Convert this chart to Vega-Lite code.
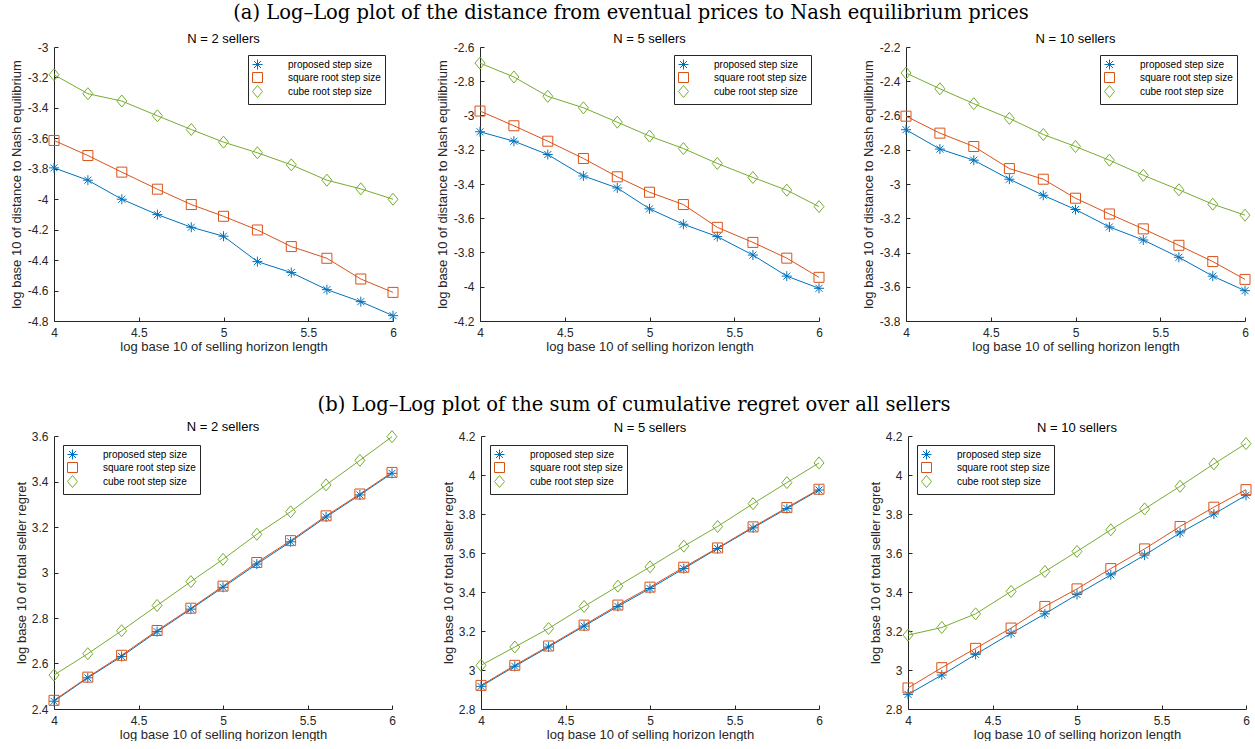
{
"$schema": "https://vega.github.io/schema/vega-lite/v6.json",
"background": "white",
"padding": {"left": 9, "top": 2, "right": 0, "bottom": 0},
"datasets": {"d": [
{"p":1,"s":"proposed step size","x":4,"y":-3.794},{"p":1,"s":"proposed step size","x":4.2,"y":-3.875},{"p":1,"s":"proposed step size","x":4.4,"y":-4.0},{"p":1,"s":"proposed step size","x":4.61,"y":-4.101},{"p":1,"s":"proposed step size","x":4.81,"y":-4.184},{"p":1,"s":"proposed step size","x":5,"y":-4.243},{"p":1,"s":"proposed step size","x":5.2,"y":-4.41},{"p":1,"s":"proposed step size","x":5.4,"y":-4.482},{"p":1,"s":"proposed step size","x":5.61,"y":-4.594},{"p":1,"s":"proposed step size","x":5.81,"y":-4.673},{"p":1,"s":"proposed step size","x":6,"y":-4.765},
{"p":1,"s":"square root step size","x":4,"y":-3.614},{"p":1,"s":"square root step size","x":4.2,"y":-3.713},{"p":1,"s":"square root step size","x":4.4,"y":-3.822},{"p":1,"s":"square root step size","x":4.61,"y":-3.934},{"p":1,"s":"square root step size","x":4.81,"y":-4.035},{"p":1,"s":"square root step size","x":5,"y":-4.112},{"p":1,"s":"square root step size","x":5.2,"y":-4.202},{"p":1,"s":"square root step size","x":5.4,"y":-4.311},{"p":1,"s":"square root step size","x":5.61,"y":-4.388},{"p":1,"s":"square root step size","x":5.81,"y":-4.524},{"p":1,"s":"square root step size","x":6,"y":-4.612},
{"p":1,"s":"cube root step size","x":4,"y":-3.182},{"p":1,"s":"cube root step size","x":4.2,"y":-3.307},{"p":1,"s":"cube root step size","x":4.4,"y":-3.355},{"p":1,"s":"cube root step size","x":4.61,"y":-3.452},{"p":1,"s":"cube root step size","x":4.81,"y":-3.542},{"p":1,"s":"cube root step size","x":5,"y":-3.625},{"p":1,"s":"cube root step size","x":5.2,"y":-3.695},{"p":1,"s":"cube root step size","x":5.4,"y":-3.774},{"p":1,"s":"cube root step size","x":5.61,"y":-3.875},{"p":1,"s":"cube root step size","x":5.81,"y":-3.932},{"p":1,"s":"cube root step size","x":6,"y":-4.0},
{"p":2,"s":"proposed step size","x":4,"y":-3.095},{"p":2,"s":"proposed step size","x":4.2,"y":-3.15},{"p":2,"s":"proposed step size","x":4.4,"y":-3.228},{"p":2,"s":"proposed step size","x":4.61,"y":-3.353},{"p":2,"s":"proposed step size","x":4.81,"y":-3.423},{"p":2,"s":"proposed step size","x":5,"y":-3.545},{"p":2,"s":"proposed step size","x":5.2,"y":-3.635},{"p":2,"s":"proposed step size","x":5.4,"y":-3.707},{"p":2,"s":"proposed step size","x":5.61,"y":-3.815},{"p":2,"s":"proposed step size","x":5.81,"y":-3.938},{"p":2,"s":"proposed step size","x":6,"y":-4.009},
{"p":2,"s":"square root step size","x":4,"y":-2.974},{"p":2,"s":"square root step size","x":4.2,"y":-3.06},{"p":2,"s":"square root step size","x":4.4,"y":-3.15},{"p":2,"s":"square root step size","x":4.61,"y":-3.251},{"p":2,"s":"square root step size","x":4.81,"y":-3.358},{"p":2,"s":"square root step size","x":5,"y":-3.448},{"p":2,"s":"square root step size","x":5.2,"y":-3.52},{"p":2,"s":"square root step size","x":5.4,"y":-3.653},{"p":2,"s":"square root step size","x":5.61,"y":-3.741},{"p":2,"s":"square root step size","x":5.81,"y":-3.833},{"p":2,"s":"square root step size","x":6,"y":-3.945},
{"p":2,"s":"cube root step size","x":4,"y":-2.694},{"p":2,"s":"cube root step size","x":4.2,"y":-2.775},{"p":2,"s":"cube root step size","x":4.4,"y":-2.888},{"p":2,"s":"cube root step size","x":4.61,"y":-2.955},{"p":2,"s":"cube root step size","x":4.81,"y":-3.039},{"p":2,"s":"cube root step size","x":5,"y":-3.12},{"p":2,"s":"cube root step size","x":5.2,"y":-3.193},{"p":2,"s":"cube root step size","x":5.4,"y":-3.28},{"p":2,"s":"cube root step size","x":5.61,"y":-3.362},{"p":2,"s":"cube root step size","x":5.81,"y":-3.436},{"p":2,"s":"cube root step size","x":6,"y":-3.532},
{"p":3,"s":"proposed step size","x":4,"y":-2.683},{"p":3,"s":"proposed step size","x":4.2,"y":-2.796},{"p":3,"s":"proposed step size","x":4.4,"y":-2.861},{"p":3,"s":"proposed step size","x":4.61,"y":-2.972},{"p":3,"s":"proposed step size","x":4.81,"y":-3.066},{"p":3,"s":"proposed step size","x":5,"y":-3.149},{"p":3,"s":"proposed step size","x":5.2,"y":-3.251},{"p":3,"s":"proposed step size","x":5.4,"y":-3.327},{"p":3,"s":"proposed step size","x":5.61,"y":-3.428},{"p":3,"s":"proposed step size","x":5.81,"y":-3.538},{"p":3,"s":"proposed step size","x":6,"y":-3.623},
{"p":3,"s":"square root step size","x":4,"y":-2.604},{"p":3,"s":"square root step size","x":4.2,"y":-2.703},{"p":3,"s":"square root step size","x":4.4,"y":-2.781},{"p":3,"s":"square root step size","x":4.61,"y":-2.91},{"p":3,"s":"square root step size","x":4.81,"y":-2.972},{"p":3,"s":"square root step size","x":5,"y":-3.083},{"p":3,"s":"square root step size","x":5.2,"y":-3.175},{"p":3,"s":"square root step size","x":5.4,"y":-3.262},{"p":3,"s":"square root step size","x":5.61,"y":-3.358},{"p":3,"s":"square root step size","x":5.81,"y":-3.453},{"p":3,"s":"square root step size","x":6,"y":-3.557},
{"p":3,"s":"cube root step size","x":4,"y":-2.352},{"p":3,"s":"cube root step size","x":4.2,"y":-2.444},{"p":3,"s":"cube root step size","x":4.4,"y":-2.531},{"p":3,"s":"cube root step size","x":4.61,"y":-2.617},{"p":3,"s":"cube root step size","x":4.81,"y":-2.711},{"p":3,"s":"cube root step size","x":5,"y":-2.781},{"p":3,"s":"cube root step size","x":5.2,"y":-2.861},{"p":3,"s":"cube root step size","x":5.4,"y":-2.949},{"p":3,"s":"cube root step size","x":5.61,"y":-3.034},{"p":3,"s":"cube root step size","x":5.81,"y":-3.118},{"p":3,"s":"cube root step size","x":6,"y":-3.182},
{"p":4,"s":"proposed step size","x":4,"y":2.434},{"p":4,"s":"proposed step size","x":4.2,"y":2.537},{"p":4,"s":"proposed step size","x":4.4,"y":2.631},{"p":4,"s":"proposed step size","x":4.61,"y":2.74},{"p":4,"s":"proposed step size","x":4.81,"y":2.839},{"p":4,"s":"proposed step size","x":5,"y":2.935},{"p":4,"s":"proposed step size","x":5.2,"y":3.037},{"p":4,"s":"proposed step size","x":5.4,"y":3.135},{"p":4,"s":"proposed step size","x":5.61,"y":3.244},{"p":4,"s":"proposed step size","x":5.81,"y":3.341},{"p":4,"s":"proposed step size","x":6,"y":3.436},
{"p":4,"s":"square root step size","x":4,"y":2.438},{"p":4,"s":"square root step size","x":4.2,"y":2.54},{"p":4,"s":"square root step size","x":4.4,"y":2.636},{"p":4,"s":"square root step size","x":4.61,"y":2.745},{"p":4,"s":"square root step size","x":4.81,"y":2.843},{"p":4,"s":"square root step size","x":5,"y":2.94},{"p":4,"s":"square root step size","x":5.2,"y":3.044},{"p":4,"s":"square root step size","x":5.4,"y":3.14},{"p":4,"s":"square root step size","x":5.61,"y":3.249},{"p":4,"s":"square root step size","x":5.81,"y":3.345},{"p":4,"s":"square root step size","x":6,"y":3.44},
{"p":4,"s":"cube root step size","x":4,"y":2.549},{"p":4,"s":"cube root step size","x":4.2,"y":2.643},{"p":4,"s":"cube root step size","x":4.4,"y":2.744},{"p":4,"s":"cube root step size","x":4.61,"y":2.855},{"p":4,"s":"cube root step size","x":4.81,"y":2.96},{"p":4,"s":"cube root step size","x":5,"y":3.058},{"p":4,"s":"cube root step size","x":5.2,"y":3.168},{"p":4,"s":"cube root step size","x":5.4,"y":3.267},{"p":4,"s":"cube root step size","x":5.61,"y":3.385},{"p":4,"s":"cube root step size","x":5.81,"y":3.493},{"p":4,"s":"cube root step size","x":6,"y":3.597},
{"p":5,"s":"proposed step size","x":4,"y":2.916},{"p":5,"s":"proposed step size","x":4.2,"y":3.019},{"p":5,"s":"proposed step size","x":4.4,"y":3.118},{"p":5,"s":"proposed step size","x":4.61,"y":3.225},{"p":5,"s":"proposed step size","x":4.81,"y":3.326},{"p":5,"s":"proposed step size","x":5,"y":3.418},{"p":5,"s":"proposed step size","x":5.2,"y":3.52},{"p":5,"s":"proposed step size","x":5.4,"y":3.623},{"p":5,"s":"proposed step size","x":5.61,"y":3.729},{"p":5,"s":"proposed step size","x":5.81,"y":3.828},{"p":5,"s":"proposed step size","x":6,"y":3.923},
{"p":5,"s":"square root step size","x":4,"y":2.921},{"p":5,"s":"square root step size","x":4.2,"y":3.024},{"p":5,"s":"square root step size","x":4.4,"y":3.123},{"p":5,"s":"square root step size","x":4.61,"y":3.23},{"p":5,"s":"square root step size","x":4.81,"y":3.333},{"p":5,"s":"square root step size","x":5,"y":3.425},{"p":5,"s":"square root step size","x":5.2,"y":3.527},{"p":5,"s":"square root step size","x":5.4,"y":3.626},{"p":5,"s":"square root step size","x":5.61,"y":3.734},{"p":5,"s":"square root step size","x":5.81,"y":3.833},{"p":5,"s":"square root step size","x":6,"y":3.927},
{"p":5,"s":"cube root step size","x":4,"y":3.024},{"p":5,"s":"cube root step size","x":4.2,"y":3.118},{"p":5,"s":"cube root step size","x":4.4,"y":3.213},{"p":5,"s":"cube root step size","x":4.61,"y":3.326},{"p":5,"s":"cube root step size","x":4.81,"y":3.43},{"p":5,"s":"cube root step size","x":5,"y":3.529},{"p":5,"s":"cube root step size","x":5.2,"y":3.635},{"p":5,"s":"cube root step size","x":5.4,"y":3.736},{"p":5,"s":"cube root step size","x":5.61,"y":3.853},{"p":5,"s":"cube root step size","x":5.81,"y":3.961},{"p":5,"s":"cube root step size","x":6,"y":4.062},
{"p":6,"s":"proposed step size","x":4,"y":2.875},{"p":6,"s":"proposed step size","x":4.2,"y":2.974},{"p":6,"s":"proposed step size","x":4.4,"y":3.08},{"p":6,"s":"proposed step size","x":4.61,"y":3.188},{"p":6,"s":"proposed step size","x":4.81,"y":3.288},{"p":6,"s":"proposed step size","x":5,"y":3.387},{"p":6,"s":"proposed step size","x":5.2,"y":3.488},{"p":6,"s":"proposed step size","x":5.4,"y":3.589},{"p":6,"s":"proposed step size","x":5.61,"y":3.703},{"p":6,"s":"proposed step size","x":5.81,"y":3.8},{"p":6,"s":"proposed step size","x":6,"y":3.896},
{"p":6,"s":"square root step size","x":4,"y":2.908},{"p":6,"s":"square root step size","x":4.2,"y":3.012},{"p":6,"s":"square root step size","x":4.4,"y":3.111},{"p":6,"s":"square root step size","x":4.61,"y":3.215},{"p":6,"s":"square root step size","x":4.81,"y":3.326},{"p":6,"s":"square root step size","x":5,"y":3.416},{"p":6,"s":"square root step size","x":5.2,"y":3.52},{"p":6,"s":"square root step size","x":5.4,"y":3.621},{"p":6,"s":"square root step size","x":5.61,"y":3.736},{"p":6,"s":"square root step size","x":5.81,"y":3.835},{"p":6,"s":"square root step size","x":6,"y":3.925},
{"p":6,"s":"cube root step size","x":4,"y":3.179},{"p":6,"s":"cube root step size","x":4.2,"y":3.218},{"p":6,"s":"cube root step size","x":4.4,"y":3.288},{"p":6,"s":"cube root step size","x":4.61,"y":3.403},{"p":6,"s":"cube root step size","x":4.81,"y":3.505},{"p":6,"s":"cube root step size","x":5,"y":3.608},{"p":6,"s":"cube root step size","x":5.2,"y":3.719},{"p":6,"s":"cube root step size","x":5.4,"y":3.826},{"p":6,"s":"cube root step size","x":5.61,"y":3.942},{"p":6,"s":"cube root step size","x":5.81,"y":4.057},{"p":6,"s":"cube root step size","x":6,"y":4.161}
]},
"config": {
  "view": {"stroke": null},
  "font": "Liberation Sans",
  "title": {"font": "Liberation Sans", "fontSize": 13, "fontWeight": "normal", "color": "#000000", "offset": -5},
  "axis": {"grid": false, "domainColor": "#262626", "tickColor": "#262626", "labelColor": "#262626", "titleColor": "#262626", "labelFont": "Liberation Sans", "titleFont": "Liberation Sans", "labelFontSize": 12, "titleFontSize": 13, "titleFontWeight": "normal", "tickSize": -4, "labelPadding": 10, "domainWidth": 1, "tickWidth": 1, "labelFlush": false, "labelOverlap": false},
  "axisX": {"titlePadding": 2},
  "axisY": {"titlePadding": 5},
  "legend": {"title": null, "strokeColor": "#262626", "fillColor": "white", "padding": 4, "labelFont": "Liberation Sans", "labelFontSize": 10, "labelColor": "#000000", "symbolSize": 100, "labelOffset": 25, "rowPadding": -2, "symbolStrokeWidth": 1}
},
"resolve": {"scale": {"color": "independent", "shape": "independent"}, "legend": {"color": "independent", "shape": "independent"}},
"columns": 1,
"align": "none",
"spacing": 42,
"concat": [
 {
  "title": {"text": "(a) Log–Log plot of the distance from eventual prices to Nash equilibrium prices", "font": "DejaVu Serif", "fontSize": 19.5, "fontWeight": "normal", "color": "#000000", "anchor": "middle", "offset": 10},
  "spacing": 35,
  "resolve": {"scale": {"color": "independent", "shape": "independent"}, "legend": {"color": "independent", "shape": "independent"}},
  "hconcat": [
   {"width": 339, "height": 274, "title": "N = 2 sellers", "data": {"name": "d"}, "transform": [{"filter": "datum.p == 1"}],
    "encoding": {
     "x": {"field": "x", "type": "quantitative", "scale": {"domain": [4, 6], "nice": false, "zero": false}, "axis": {"values": [4, 4.5, 5, 5.5, 6], "title": "log base 10 of selling horizon length", "labelExpr": "toString(round(datum.value*10)/10)"}},
     "y": {"field": "y", "type": "quantitative", "scale": {"domain": [-4.8, -3], "nice": false, "zero": false}, "axis": {"values": [-4.8, -4.6, -4.4, -4.2, -4, -3.8, -3.6, -3.4, -3.2, -3], "title": "log base 10 of distance to Nash equilibrium", "labelExpr": "toString(round(datum.value*10)/10)", "minExtent": 26, "maxExtent": 26}},
     "color": {"field": "s", "type": "nominal", "scale": {"domain": ["proposed step size", "square root step size", "cube root step size"], "range": ["#0072BD", "#D95319", "#77AC30"]}, "legend": {"orient": "top-right", "offset": 8, "labelExpr": "datum.label + '   '"}}
    },
    "layer": [
     {"mark": {"type": "line", "strokeWidth": 1}},
     {"mark": {"type": "point", "filled": false, "size": 100, "strokeWidth": 1, "opacity": 1},
      "encoding": {
       "shape": {"field": "s", "type": "nominal", "scale": {"domain": ["proposed step size", "square root step size", "cube root step size"], "range": ["M0,-1V1M-1,0H1M-0.7,-0.7L0.7,0.7M-0.7,0.7L0.7,-0.7", "M-1,-1H1V1H-1Z", "M0,-1.2L1,0L0,1.2L-1,0Z"]}, "legend": {"orient": "top-right", "offset": 8, "labelExpr": "datum.label + '   '"}}
      }}
    ]},
   {"width": 339, "height": 274, "title": "N = 5 sellers", "data": {"name": "d"}, "transform": [{"filter": "datum.p == 2"}],
    "encoding": {
     "x": {"field": "x", "type": "quantitative", "scale": {"domain": [4, 6], "nice": false, "zero": false}, "axis": {"values": [4, 4.5, 5, 5.5, 6], "title": "log base 10 of selling horizon length", "labelExpr": "toString(round(datum.value*10)/10)"}},
     "y": {"field": "y", "type": "quantitative", "scale": {"domain": [-4.2, -2.6], "nice": false, "zero": false}, "axis": {"values": [-4.2, -4, -3.8, -3.6, -3.4, -3.2, -3, -2.8, -2.6], "title": "log base 10 of distance to Nash equilibrium", "labelExpr": "toString(round(datum.value*10)/10)", "minExtent": 26, "maxExtent": 26}},
     "color": {"field": "s", "type": "nominal", "scale": {"domain": ["proposed step size", "square root step size", "cube root step size"], "range": ["#0072BD", "#D95319", "#77AC30"]}, "legend": {"orient": "top-right", "offset": 8, "labelExpr": "datum.label + '   '"}}
    },
    "layer": [
     {"mark": {"type": "line", "strokeWidth": 1}},
     {"mark": {"type": "point", "filled": false, "size": 100, "strokeWidth": 1, "opacity": 1},
      "encoding": {
       "shape": {"field": "s", "type": "nominal", "scale": {"domain": ["proposed step size", "square root step size", "cube root step size"], "range": ["M0,-1V1M-1,0H1M-0.7,-0.7L0.7,0.7M-0.7,0.7L0.7,-0.7", "M-1,-1H1V1H-1Z", "M0,-1.2L1,0L0,1.2L-1,0Z"]}, "legend": {"orient": "top-right", "offset": 8, "labelExpr": "datum.label + '   '"}}
      }}
    ]},
   {"width": 339, "height": 274, "title": "N = 10 sellers", "data": {"name": "d"}, "transform": [{"filter": "datum.p == 3"}],
    "encoding": {
     "x": {"field": "x", "type": "quantitative", "scale": {"domain": [4, 6], "nice": false, "zero": false}, "axis": {"values": [4, 4.5, 5, 5.5, 6], "title": "log base 10 of selling horizon length", "labelExpr": "toString(round(datum.value*10)/10)"}},
     "y": {"field": "y", "type": "quantitative", "scale": {"domain": [-3.8, -2.2], "nice": false, "zero": false}, "axis": {"values": [-3.8, -3.6, -3.4, -3.2, -3, -2.8, -2.6, -2.4, -2.2], "title": "log base 10 of distance to Nash equilibrium", "labelExpr": "toString(round(datum.value*10)/10)", "minExtent": 26, "maxExtent": 26}},
     "color": {"field": "s", "type": "nominal", "scale": {"domain": ["proposed step size", "square root step size", "cube root step size"], "range": ["#0072BD", "#D95319", "#77AC30"]}, "legend": {"orient": "top-right", "offset": 8, "labelExpr": "datum.label + '   '"}}
    },
    "layer": [
     {"mark": {"type": "line", "strokeWidth": 1}},
     {"mark": {"type": "point", "filled": false, "size": 100, "strokeWidth": 1, "opacity": 1},
      "encoding": {
       "shape": {"field": "s", "type": "nominal", "scale": {"domain": ["proposed step size", "square root step size", "cube root step size"], "range": ["M0,-1V1M-1,0H1M-0.7,-0.7L0.7,0.7M-0.7,0.7L0.7,-0.7", "M-1,-1H1V1H-1Z", "M0,-1.2L1,0L0,1.2L-1,0Z"]}, "legend": {"orient": "top-right", "offset": 8, "labelExpr": "datum.label + '   '"}}
      }}
    ]}
  ]
 },
 {
  "title": {"text": "(b) Log–Log plot of the sum of cumulative regret over all sellers", "font": "DejaVu Serif", "fontSize": 19.5, "fontWeight": "normal", "color": "#000000", "anchor": "middle", "offset": 5},
  "spacing": 43,
  "resolve": {"scale": {"color": "independent", "shape": "independent"}, "legend": {"color": "independent", "shape": "independent"}},
  "hconcat": [
   {"width": 338, "height": 273, "title": "N = 2 sellers", "data": {"name": "d"}, "transform": [{"filter": "datum.p == 4"}],
    "encoding": {
     "x": {"field": "x", "type": "quantitative", "scale": {"domain": [4, 6], "nice": false, "zero": false}, "axis": {"values": [4, 4.5, 5, 5.5, 6], "title": "log base 10 of selling horizon length", "labelExpr": "toString(round(datum.value*10)/10)"}},
     "y": {"field": "y", "type": "quantitative", "scale": {"domain": [2.4, 3.6], "nice": false, "zero": false}, "axis": {"values": [2.4, 2.6, 2.8, 3, 3.2, 3.4, 3.6], "title": "log base 10 of total seller regret", "labelExpr": "toString(round(datum.value*10)/10)", "minExtent": 21, "maxExtent": 21}},
     "color": {"field": "s", "type": "nominal", "scale": {"domain": ["proposed step size", "square root step size", "cube root step size"], "range": ["#0072BD", "#D95319", "#77AC30"]}, "legend": {"orient": "top-left", "offset": 9, "labelExpr": "datum.label + '   '"}}
    },
    "layer": [
     {"mark": {"type": "line", "strokeWidth": 1}},
     {"mark": {"type": "point", "filled": false, "size": 100, "strokeWidth": 1, "opacity": 1},
      "encoding": {
       "shape": {"field": "s", "type": "nominal", "scale": {"domain": ["proposed step size", "square root step size", "cube root step size"], "range": ["M0,-1V1M-1,0H1M-0.7,-0.7L0.7,0.7M-0.7,0.7L0.7,-0.7", "M-1,-1H1V1H-1Z", "M0,-1.2L1,0L0,1.2L-1,0Z"]}, "legend": {"orient": "top-left", "offset": 9, "labelExpr": "datum.label + '   '"}}
      }}
    ]},
   {"width": 338, "height": 273, "title": "N = 5 sellers", "data": {"name": "d"}, "transform": [{"filter": "datum.p == 5"}],
    "encoding": {
     "x": {"field": "x", "type": "quantitative", "scale": {"domain": [4, 6], "nice": false, "zero": false}, "axis": {"values": [4, 4.5, 5, 5.5, 6], "title": "log base 10 of selling horizon length", "labelExpr": "toString(round(datum.value*10)/10)"}},
     "y": {"field": "y", "type": "quantitative", "scale": {"domain": [2.8, 4.2], "nice": false, "zero": false}, "axis": {"values": [2.8, 3, 3.2, 3.4, 3.6, 3.8, 4, 4.2], "title": "log base 10 of total seller regret", "labelExpr": "toString(round(datum.value*10)/10)", "minExtent": 21, "maxExtent": 21}},
     "color": {"field": "s", "type": "nominal", "scale": {"domain": ["proposed step size", "square root step size", "cube root step size"], "range": ["#0072BD", "#D95319", "#77AC30"]}, "legend": {"orient": "top-left", "offset": 9, "labelExpr": "datum.label + '   '"}}
    },
    "layer": [
     {"mark": {"type": "line", "strokeWidth": 1}},
     {"mark": {"type": "point", "filled": false, "size": 100, "strokeWidth": 1, "opacity": 1},
      "encoding": {
       "shape": {"field": "s", "type": "nominal", "scale": {"domain": ["proposed step size", "square root step size", "cube root step size"], "range": ["M0,-1V1M-1,0H1M-0.7,-0.7L0.7,0.7M-0.7,0.7L0.7,-0.7", "M-1,-1H1V1H-1Z", "M0,-1.2L1,0L0,1.2L-1,0Z"]}, "legend": {"orient": "top-left", "offset": 9, "labelExpr": "datum.label + '   '"}}
      }}
    ]},
   {"width": 338, "height": 273, "title": "N = 10 sellers", "data": {"name": "d"}, "transform": [{"filter": "datum.p == 6"}],
    "encoding": {
     "x": {"field": "x", "type": "quantitative", "scale": {"domain": [4, 6], "nice": false, "zero": false}, "axis": {"values": [4, 4.5, 5, 5.5, 6], "title": "log base 10 of selling horizon length", "labelExpr": "toString(round(datum.value*10)/10)"}},
     "y": {"field": "y", "type": "quantitative", "scale": {"domain": [2.8, 4.2], "nice": false, "zero": false}, "axis": {"values": [2.8, 3, 3.2, 3.4, 3.6, 3.8, 4, 4.2], "title": "log base 10 of total seller regret", "labelExpr": "toString(round(datum.value*10)/10)", "minExtent": 21, "maxExtent": 21}},
     "color": {"field": "s", "type": "nominal", "scale": {"domain": ["proposed step size", "square root step size", "cube root step size"], "range": ["#0072BD", "#D95319", "#77AC30"]}, "legend": {"orient": "top-left", "offset": 9, "labelExpr": "datum.label + '   '"}}
    },
    "layer": [
     {"mark": {"type": "line", "strokeWidth": 1}},
     {"mark": {"type": "point", "filled": false, "size": 100, "strokeWidth": 1, "opacity": 1},
      "encoding": {
       "shape": {"field": "s", "type": "nominal", "scale": {"domain": ["proposed step size", "square root step size", "cube root step size"], "range": ["M0,-1V1M-1,0H1M-0.7,-0.7L0.7,0.7M-0.7,0.7L0.7,-0.7", "M-1,-1H1V1H-1Z", "M0,-1.2L1,0L0,1.2L-1,0Z"]}, "legend": {"orient": "top-left", "offset": 9, "labelExpr": "datum.label + '   '"}}
      }}
    ]}
  ]
 }
]
}
